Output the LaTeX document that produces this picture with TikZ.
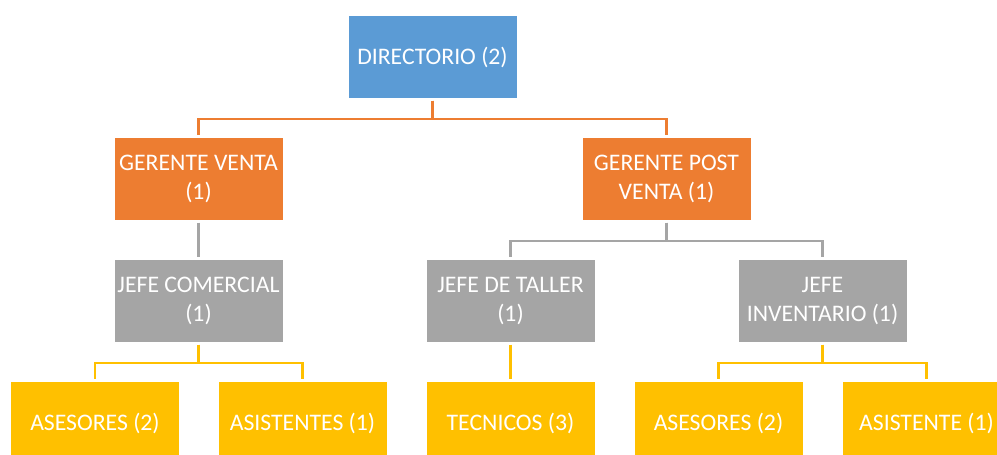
\documentclass[tikz,border=0pt]{standalone}
\usepackage{fontspec}
\setmainfont{Carlito}
\usetikzlibrary{positioning, calc}

\definecolor{dirblue}{HTML}{5B9BD5}
\definecolor{gerorange}{HTML}{ED7D31}
\definecolor{jefegray}{HTML}{A5A5A5}
\definecolor{staffgold}{HTML}{FFC000}

\begin{document}
\begin{tikzpicture}[node distance=2.44cm]
        \tikzstyle{puesto}=[draw=white, line width=.4pt, rectangle, minimum width=3.38cm, minimum height=1.66cm, inner sep=1pt, align=center, text=white, font=\fontsize{13.5}{16}\selectfont];
        \tikzstyle{elbow}=[line width=1.2pt, shorten <=1pt, shorten >=1pt, to path={-- ++(0,-.4cm) -| (\tikztotarget)}];
        \useasboundingbox (0,0) rectangle (19.94,-9.10);
        \clip (0,0) rectangle (19.94,-9.10);

        \node[puesto, fill=dirblue] (dir) at (8.65,-1.14) {DIRECTORIO (2)};
        \node[puesto, below of=dir, xshift=-4.68cm, fill=gerorange] (gventa) {GERENTE VENTA\\(1)};
        \node[puesto, below of=dir, xshift=4.68cm, fill=gerorange] (gpost) {GERENTE POST\\VENTA (1)};
        \node[puesto, below of=gventa, fill=jefegray] (jcom) {JEFE COMERCIAL\\(1)};
        \node[puesto, below of=gpost, xshift=-3.12cm, fill=jefegray] (jtaller) {JEFE DE TALLER\\(1)};
        \node[puesto, below of=gpost, xshift=3.12cm, fill=jefegray] (jinv) {JEFE\\INVENTARIO (1)};
        \node[puesto, below of=jcom, xshift=-2.07cm, fill=staffgold] (ases1) {ASESORES (2)};
        \node[puesto, below of=jcom, xshift=2.08cm, fill=staffgold] (asis1) {ASISTENTES (1)};
        \node[puesto, below of=jtaller, fill=staffgold] (tec) {TECNICOS (3)};
        \node[puesto, below of=jinv, xshift=-2.08cm, fill=staffgold] (ases2) {ASESORES (2)};
        \node[puesto, below of=jinv, xshift=2.08cm, fill=staffgold] (asis2) {ASISTENTE (1)};

        \path[elbow, gerorange]
        (dir.south) edge (gventa.north)
        (dir.south) edge (gpost.north);
        \path[elbow, jefegray]
        (gventa.south) edge (jcom.north)
        (gpost.south) edge (jtaller.north)
        (gpost.south) edge (jinv.north);
        \path[elbow, staffgold]
        (jcom.south) edge (ases1.north)
        (jcom.south) edge (asis1.north)
        (jtaller.south) edge (tec.north)
        (jinv.south) edge (ases2.north)
        (jinv.south) edge (asis2.north);
      \end{tikzpicture}
\end{document}
